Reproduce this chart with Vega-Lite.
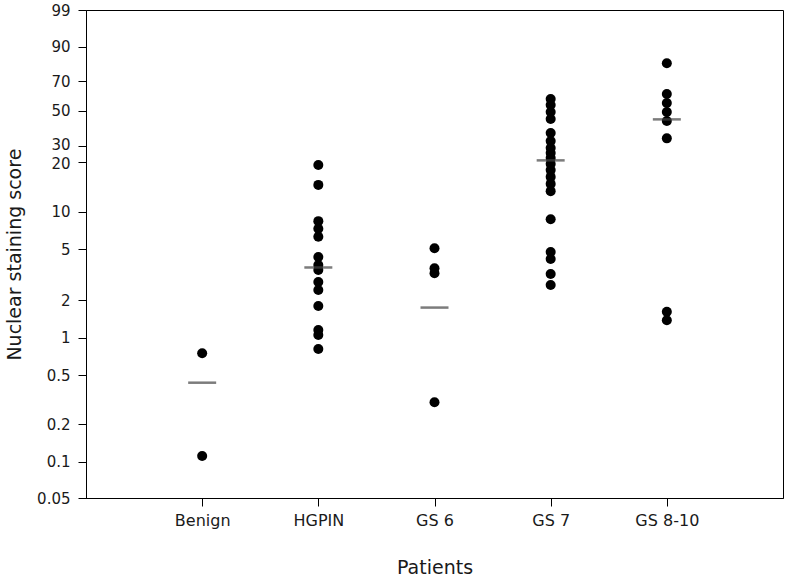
{
  "$schema": "https://vega.github.io/schema/vega-lite/v6.json",
  "width": 697,
  "height": 488,
  "autosize": {"type": "none"},
  "padding": {"left": 86, "top": 10, "right": 5, "bottom": 83},
  "background": "white",
  "config": {
    "view": {"stroke": "#000000", "strokeWidth": 1},
    "font": "DejaVu Sans"
  },
  "datasets": {
    "points": [
      {"group": "Benign", "score": 0.75},
      {"group": "Benign", "score": 0.111},
      {"group": "HGPIN", "score": 19.1},
      {"group": "HGPIN", "score": 14.5},
      {"group": "HGPIN", "score": 8.4},
      {"group": "HGPIN", "score": 7.3},
      {"group": "HGPIN", "score": 6.3},
      {"group": "HGPIN", "score": 4.35},
      {"group": "HGPIN", "score": 3.77},
      {"group": "HGPIN", "score": 3.44},
      {"group": "HGPIN", "score": 2.77},
      {"group": "HGPIN", "score": 2.4},
      {"group": "HGPIN", "score": 1.79},
      {"group": "HGPIN", "score": 1.15},
      {"group": "HGPIN", "score": 1.05},
      {"group": "HGPIN", "score": 0.81},
      {"group": "GS 6", "score": 5.09},
      {"group": "GS 6", "score": 3.55},
      {"group": "GS 6", "score": 3.24},
      {"group": "GS 6", "score": 0.3},
      {"group": "GS 7", "score": 57.1},
      {"group": "GS 7", "score": 53.3},
      {"group": "GS 7", "score": 49.1},
      {"group": "GS 7", "score": 44.3},
      {"group": "GS 7", "score": 36.2},
      {"group": "GS 7", "score": 32.2},
      {"group": "GS 7", "score": 28.5},
      {"group": "GS 7", "score": 25.0},
      {"group": "GS 7", "score": 22.0},
      {"group": "GS 7", "score": 19.4},
      {"group": "GS 7", "score": 17.8},
      {"group": "GS 7", "score": 16.2},
      {"group": "GS 7", "score": 14.7},
      {"group": "GS 7", "score": 13.3},
      {"group": "GS 7", "score": 8.7},
      {"group": "GS 7", "score": 4.76},
      {"group": "GS 7", "score": 4.2},
      {"group": "GS 7", "score": 3.2},
      {"group": "GS 7", "score": 2.62},
      {"group": "GS 8-10", "score": 79.7},
      {"group": "GS 8-10", "score": 60.4},
      {"group": "GS 8-10", "score": 54.6},
      {"group": "GS 8-10", "score": 49.1},
      {"group": "GS 8-10", "score": 43.1},
      {"group": "GS 8-10", "score": 33.5},
      {"group": "GS 8-10", "score": 1.61},
      {"group": "GS 8-10", "score": 1.38}
    ],
    "medians": [
      {"group": "Benign", "score": 0.433},
      {"group": "HGPIN", "score": 3.6},
      {"group": "GS 6", "score": 1.74},
      {"group": "GS 7", "score": 20.7},
      {"group": "GS 8-10", "score": 44.1}
    ]
  },
  "encoding": {
    "x": {
      "field": "group",
      "type": "nominal",
      "sort": ["Benign", "HGPIN", "GS 6", "GS 7", "GS 8-10"],
      "scale": {"type": "point", "padding": 1, "domain": ["Benign", "HGPIN", "GS 6", "GS 7", "GS 8-10"]},
      "axis": {
        "title": "Patients",
        "labelAngle": 0,
        "labelFontSize": 16,
        "labelColor": "#1a1a1a",
        "labelPadding": 6,
        "labelOverlap": false,
        "tickSize": 8,
        "tickColor": "#000000",
        "domainColor": "#000000",
        "titleFontSize": 19,
        "titleFontWeight": "normal",
        "titleColor": "#1a1a1a",
        "titlePadding": 30,
        "grid": false
      }
    },
    "y": {
      "field": "score",
      "type": "quantitative",
      "scale": {
        "type": "log",
        "domain": [0.05, 0.1, 0.2, 0.5, 1, 2, 5, 10, 20, 30, 50, 70, 90, 99],
        "range": [488.3, 451.7, 414, 365, 327.7, 290, 239.3, 201.7, 151.7, 136, 100.7, 71, 36.7, 0],
        "nice": false,
        "zero": false
      },
      "axis": {
        "title": "Nuclear staining score",
        "values": [0.05, 0.1, 0.2, 0.5, 1, 2, 5, 10, 20, 30, 50, 70, 90, 99],
        "format": "~g",
        "labelFontSize": 15,
        "labelColor": "#1a1a1a",
        "labelPadding": 8,
        "labelOverlap": false,
        "labelFlush": false,
        "labelOffset": {"condition": [{"test": "datum.value == 30", "value": -1.5}, {"test": "datum.value == 20", "value": 1.5}], "value": 0},
        "tickSize": 8,
        "tickColor": "#000000",
        "domainColor": "#000000",
        "titleFontSize": 19,
        "titleFontWeight": "normal",
        "titleColor": "#1a1a1a",
        "titlePadding": 12,
        "grid": false
      }
    }
  },
  "layer": [
    {
      "data": {"name": "points"},
      "mark": {"type": "point", "shape": "circle", "filled": true, "size": 100, "color": "#000000", "opacity": 1}
    },
    {
      "data": {"name": "medians"},
      "mark": {"type": "tick", "size": 28, "thickness": 2.5, "color": "#444444", "orient": "horizontal"}
    }
  ]
}
